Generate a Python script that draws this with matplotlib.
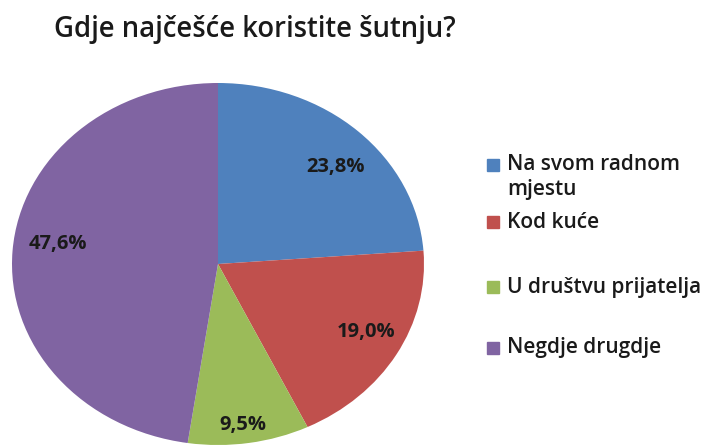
import matplotlib.pyplot as plt
from matplotlib.patches import Rectangle
import numpy as np

plt.rcParams['font.family'] = ['Open Sans', 'DejaVu Sans']

naslov = 'Gdje najčešće koristite šutnju?'
kategorije = ['Na svom radnom\nmjestu', 'Kod kuće', 'U društvu prijatelja', 'Negdje drugdje']
postoci = [23.8, 19.0, 9.5, 47.6]
boje = ['#4F81BD', '#C0504D', '#9BBB59', '#8064A2']

fig = plt.figure(figsize=(7.05, 4.46), dpi=100)
W, H = 705, 446

# pie area (ellipse, like the Excel export)
ax = fig.add_axes([12 / W, 1 / H, 412 / W, 362 / H])
wedges, _ = ax.pie(postoci, colors=boje, startangle=90, counterclock=False,
                   radius=1.0, wedgeprops=dict(linewidth=0))
ax.set_aspect('auto')
ax.set_xlim(-1, 1)
ax.set_ylim(-1, 1)
ax.axis('off')

# label placement: distance from centre and angle nudge per slice
lab_r = [0.785, 0.81, 0.898, 0.787]
lab_da = [-4, 2.3, -1, -3.7]
for w, p, r, da in zip(wedges, postoci, lab_r, lab_da):
    a = np.deg2rad((w.theta1 + w.theta2) / 2 + da)
    ax.text(r * np.cos(a), r * np.sin(a), f'{p:.1f}%'.replace('.', ','),
            ha='center', va='center', fontsize=14.5, fontweight='bold',
            color='#1a1a1a')

fig.text(54 / W, 1 - 29 / H, naslov, ha='left', va='center',
         fontsize=19.8, color='#1a1a1a', fontweight='semibold')

# legend
leg_y = [177, 222, 287, 348]
for y, txt, c in zip(leg_y, kategorije, boje):
    sq_y = y - 12 if '\n' in txt else y
    fig.patches.append(Rectangle((487 / W, 1 - (sq_y + 6) / H), 12 / W, 12 / H,
                                 transform=fig.transFigure, color=c))
    fig.text(507 / W, 1 - y / H, txt, ha='left', va='center',
             fontsize=15, fontweight='semibold', color='#1a1a1a',
             linespacing=1.2)

fig.savefig('out.png', dpi=100)
